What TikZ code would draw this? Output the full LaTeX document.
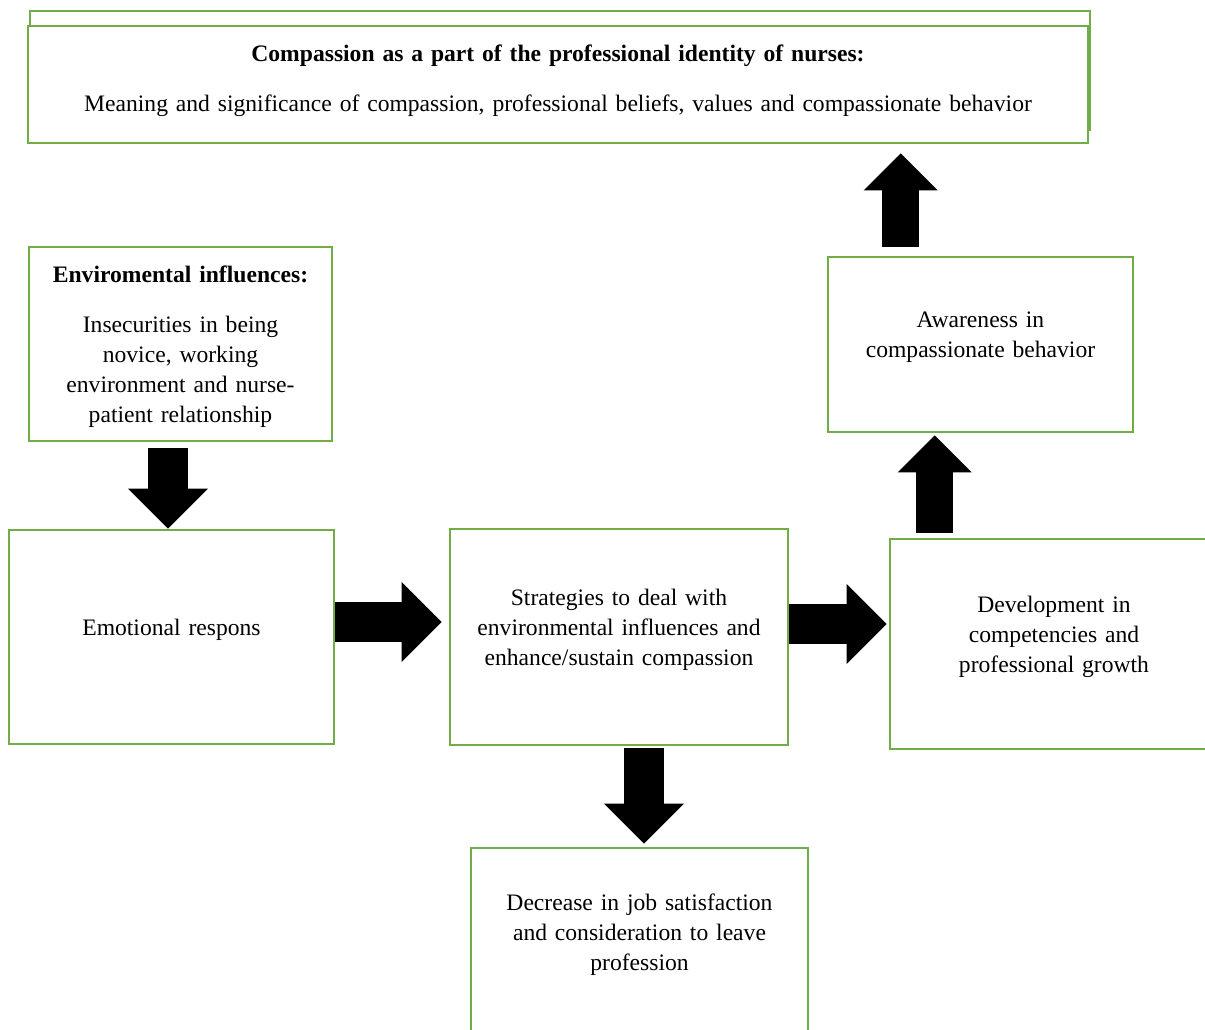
\documentclass[tikz,border=0pt]{standalone}
\usepackage{fontspec}
\setmainfont{Liberation Serif}
\usetikzlibrary{positioning,arrows.meta}
\definecolor{boxgreen}{RGB}{112,173,71}

\begin{document}
\begin{tikzpicture}[x=0.5pt, y=-0.5pt,
        box/.style={draw=boxgreen, line width=1.3pt, fill=white,
            align=center, inner sep=0pt,
            font=\fontsize{11.8pt}{15pt}\selectfont},
        lift/.style={execute at end node={\endgraf\kern#1}},
        blockarrow/.style={line width=20pt,
            -{Triangle[length=20pt, width=40pt, line width=0pt]}},
        slimarrow/.style={line width=18.5pt,
            -{Triangle[length=18.5pt, width=37pt, line width=0pt]}}
    ]
    \clip (0,0) rectangle (1205,1029);
    \node[box, minimum width=530pt, minimum height=59.5pt] (identityback) at (560,70.5) {};
    \node[box, text width=530pt, minimum height=58.5pt, lift=4pt] (identity) at (558,84.5)
        {\textbf{Compassion as a part of the professional identity of nurses:}\\[10pt]
        Meaning and significance of compassion, professional beliefs, values and compassionate behavior};
    \node[box, text width=151.5pt, minimum height=97pt, lift=-2.5pt] (environment) at (180.5,344)
        {\textbf{Enviromental influences:}\\[10pt]
        Insecurities in being\\ novice, working\\ environment and nurse-\\ patient relationship};
    \node[box, text width=162.5pt, minimum height=107pt, lift=7.5pt] (emotion) at (171.5,637)
        {Emotional respons};
    \node[box, text width=169pt, minimum height=108pt, lift=7.5pt] (strategy) at (619,637)
        {Strategies to deal with\\ environmental influences and\\ enhance/sustain compassion};
    \node[box, text width=164pt, minimum height=105pt, lift=7.5pt] (development) at (1054,644)
        {Development in\\ competencies and\\ professional growth};
    \node[box, text width=152.5pt, minimum height=87.5pt, lift=7.5pt] (awareness) at (980.5,344.5)
        {Awareness in\\ compassionate behavior};
    \node[box, text width=168.5pt, minimum height=94pt, lift=7.5pt] (decrease) at (639.5,942)
        {Decrease in job satisfaction\\ and consideration to leave\\ profession};

    \draw[blockarrow, shorten <=3pt] ([xshift=-1.75pt]environment.south -| emotion.north) -- ([xshift=-1.75pt]emotion.north);
    \draw[blockarrow, shorten >=3.5pt] ([yshift=7.5pt]emotion.east) -- ([yshift=7.5pt]strategy.west);
    \draw[blockarrow, shorten >=1pt] ([yshift=6.5pt]strategy.east) -- ([yshift=10pt]development.west);
    \draw[slimarrow, shorten <=2.5pt, shorten >=1pt] ([xshift=23pt]development.north west) -- ([xshift=54pt]awareness.south west);
    \draw[slimarrow, shorten <=4.5pt, shorten >=4.5pt] ([xshift=37pt]awareness.north west) -- ([xshift=437pt]identity.south west);
    \draw[blockarrow, shorten <=1pt, shorten >=1.5pt] ([xshift=12.5pt]strategy.south) -- ([xshift=2.25pt]decrease.north);
\end{tikzpicture}
\end{document}
